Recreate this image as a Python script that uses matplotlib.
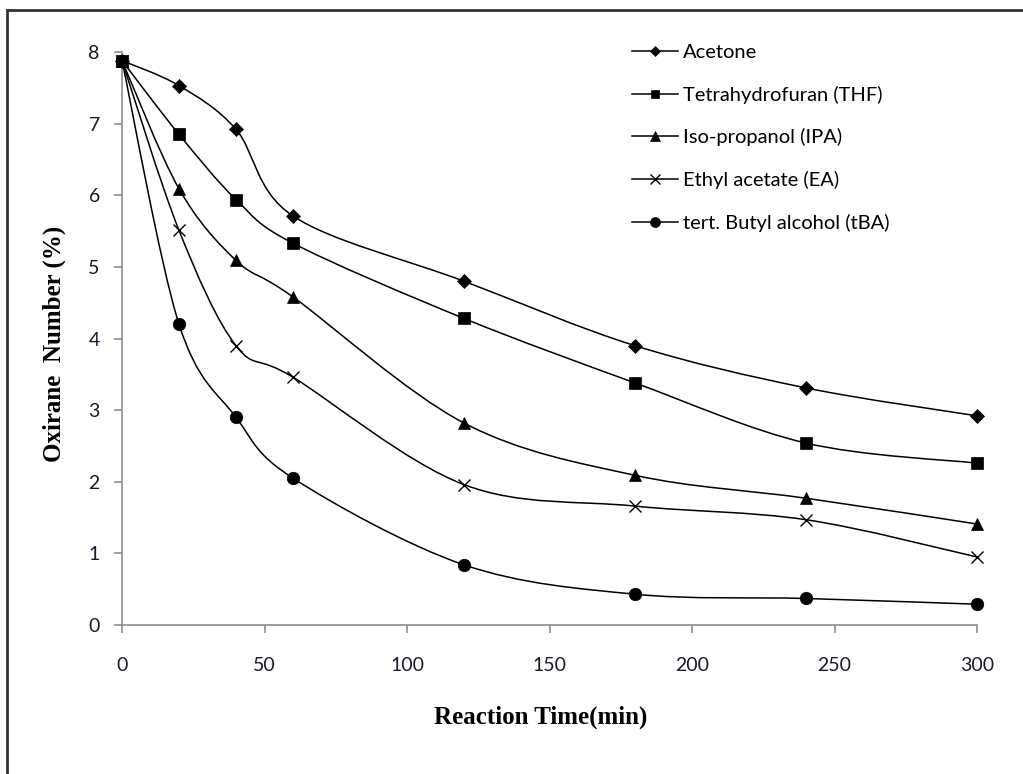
import numpy as np
import matplotlib.pyplot as plt
from matplotlib.path import Path
from matplotlib.patches import PathPatch
from matplotlib.lines import Line2D

# Datos
tiempo = [0, 20, 40, 60, 120, 180, 240, 300]
acetona = [7.88, 7.53, 6.92, 5.71, 4.80, 3.90, 3.31, 2.92]
thf = [7.88, 6.85, 5.94, 5.33, 4.28, 3.38, 2.54, 2.26]
ipa = [7.88, 6.09, 5.09, 4.58, 2.82, 2.09, 1.77, 1.41]
ea = [7.88, 5.51, 3.90, 3.46, 1.96, 1.66, 1.47, 0.95]
tba = [7.88, 4.20, 2.90, 2.05, 0.84, 0.43, 0.37, 0.29]

nombres = ['Acetone', 'Tetrahydrofuran (THF)', 'Iso-propanol (IPA)',
           'Ethyl acetate (EA)', 'tert. Butyl alcohol (tBA)']
series = [acetona, thf, ipa, ea, tba]
marcadores = ['D', 's', '^', 'x', 'o']
tamanos = [7, 8, 8.5, 8.5, 9]


# Línea suavizada tipo Excel (Bezier con tangentes de Catmull-Rom)
def curva_suave(x, y):
    p = np.column_stack([x, y]).astype(float)
    n = len(p)
    verts = [p[0]]
    codes = [Path.MOVETO]
    for i in range(n - 1):
        p0 = p[i - 1] if i > 0 else p[i]
        p3 = p[i + 2] if i + 2 < n else p[i + 1]
        c1 = p[i] + (p[i + 1] - p0) / 6
        c2 = p[i + 1] - (p3 - p[i]) / 6
        verts += [c1, c2, p[i + 1]]
        codes += [Path.CURVE4] * 3
    return Path(verts, codes)


fig = plt.figure(figsize=(10.23, 7.74), dpi=100)
ax = fig.add_axes([122 / 1023, 1 - 625 / 774, 855 / 1023, 573 / 774])

for y, m, ms in zip(series, marcadores, tamanos):
    ax.add_patch(PathPatch(curva_suave(tiempo, y), fill=False, edgecolor='black',
                           lw=1.1, clip_on=False))
    ax.plot(tiempo, y, linestyle='none', marker=m, ms=ms, color='black',
            mew=1.0 if m == 'x' else 0.5, clip_on=False, zorder=3)

ax.set_xlim(0, 300)
ax.set_ylim(0, 8)
ax.set_xticks(range(0, 301, 50))
ax.set_yticks(range(0, 9))

for s in ['top', 'right']:
    ax.spines[s].set_visible(False)
for s in ['left', 'bottom']:
    ax.spines[s].set_color('#8c8c8c')
    ax.spines[s].set_linewidth(1.2)

ax.tick_params(direction='out', length=6, width=1.2, color='#8c8c8c',
               labelsize=14, labelcolor='#1a1a2a')
for lab in ax.get_xticklabels() + ax.get_yticklabels():
    lab.set_family('Lato')
ax.tick_params(axis='x', pad=17)
ax.tick_params(axis='y', pad=10)

ax.set_xlabel('Reaction Time(min)', family='Liberation Serif', fontweight='bold',
              fontsize=18)
ax.set_ylabel('Oxirane  Number (%)', family='Liberation Serif', fontweight='bold',
              fontsize=18)
ax.xaxis.set_label_coords(0.49, -0.14)
ax.yaxis.set_label_coords(-0.066, 0.49)

handles = [Line2D([], [], color='black', lw=1.1, marker=m, ms=ms * 0.8,
                  mew=1.0 if m == 'x' else 0.5)
           for m, ms in zip(marcadores, tamanos)]
fig.legend(handles, nombres, loc='upper left', bbox_to_anchor=(632 / 1023, 1 - 44 / 774),
           frameon=False, prop={'family': 'Lato', 'size': 14.5}, handlelength=2.3,
           handletextpad=0.25, labelspacing=1.22, borderpad=0, borderaxespad=0)

# Borde exterior (recortado a la derecha y abajo)
fig.add_artist(Line2D([7 / 1023, 7 / 1023], [0, 1 - 10 / 774], color='#333333',
                      lw=2, transform=fig.transFigure))
fig.add_artist(Line2D([7 / 1023, 1], [1 - 10 / 774, 1 - 10 / 774], color='#333333',
                      lw=2, transform=fig.transFigure))

fig.savefig('out.png', dpi=100)
